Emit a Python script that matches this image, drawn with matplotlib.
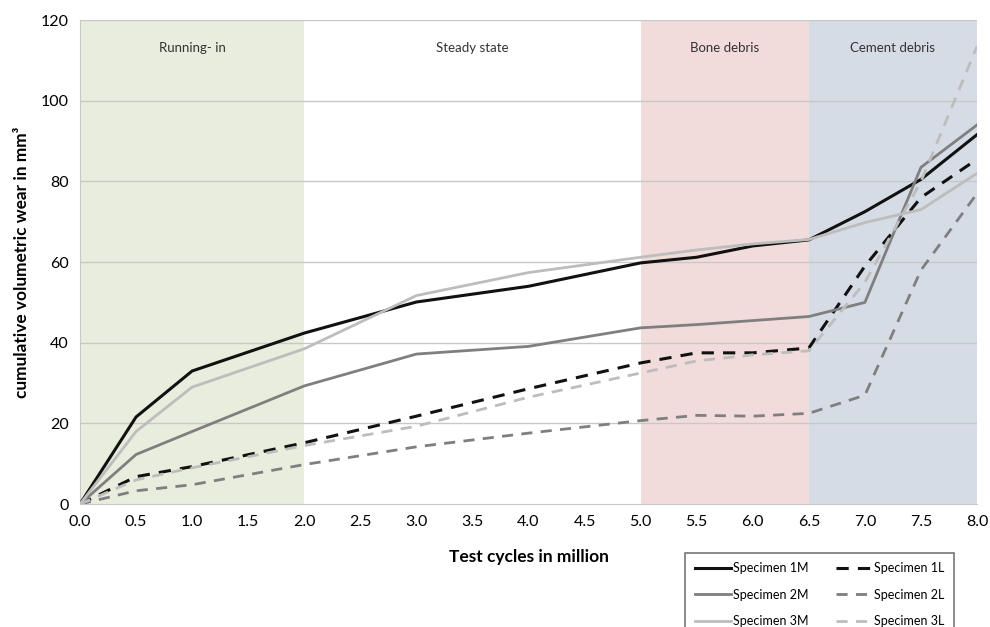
import matplotlib
matplotlib.use('Agg')
import matplotlib.pyplot as plt

plt.rcParams['font.family'] = ['Lato', 'DejaVu Sans']

# test cycles (million)
cycles = [0.0, 0.5, 1.0, 2.0, 3.0, 4.0, 5.0, 5.5, 6.0, 6.5, 7.0, 7.5, 8.0]

# cumulative volumetric wear in mm^3
wear_1m = [0, 21.6, 33.0, 42.4, 50.1, 54.0, 59.8, 61.2, 64.0, 65.5, 72.5, 80.5, 91.6]
wear_2m = [0, 12.3, 18.0, 29.3, 37.2, 39.1, 43.7, 44.5, 45.5, 46.5, 50.0, 83.5, 94.0]
wear_3m = [0, 18.0, 29.0, 38.5, 51.7, 57.4, 61.2, 63.0, 64.5, 65.6, 69.8, 73.0, 82.0]
wear_1l = [0, 6.8, 9.3, 15.2, 21.8, 28.6, 35.0, 37.5, 37.5, 38.7, 59.0, 76.0, 85.5]
wear_2l = [0, 3.3, 4.8, 9.8, 14.2, 17.6, 20.7, 22.0, 21.8, 22.5, 27.0, 58.0, 77.0]
wear_3l = [0, 6.0, 9.0, 14.5, 19.3, 26.5, 32.5, 35.5, 37.0, 38.0, 55.0, 80.0, 113.5]

phases = [(0.0, 2.0, 'Running- in', '#e9eddd'),
          (2.0, 5.0, 'Steady state', 'white'),
          (5.0, 6.5, 'Bone debris', '#f2dcdb'),
          (6.5, 8.0, 'Cement debris', '#d6dce5')]

fig = plt.figure(figsize=(9.9, 6.27), dpi=100)
ax = fig.add_axes([0.0808, 0.196, 0.9061, 0.772])

for x0, x1, name, col in phases:
    ax.axvspan(x0, x1, color=col, lw=0, zorder=0)
    ax.text((x0 + x1) / 2, 113, name, ha='center', va='center',
            fontsize=9.5, color='#333333')

for y in range(20, 121, 20):
    ax.axhline(y, color='#c8c8c8', lw=1, zorder=1)

dash = (0, (4, 3))
ax.plot(cycles, wear_1m, color='#111111', lw=2.2, label='Specimen 1M', zorder=3)
ax.plot(cycles, wear_1l, color='#111111', lw=2.2, ls=dash, label='Specimen 1L', zorder=3)
ax.plot(cycles, wear_2m, color='#7f7f7f', lw=2, label='Specimen 2M', zorder=3)
ax.plot(cycles, wear_2l, color='#7f7f7f', lw=2, ls=dash, label='Specimen 2L', zorder=3)
ax.plot(cycles, wear_3m, color='#bdbdbd', lw=2, label='Specimen 3M', zorder=3)
ax.plot(cycles, wear_3l, color='#bdbdbd', lw=2, ls=dash, label='Specimen 3L', zorder=3)

ax.set_xlim(0, 8)
ax.set_ylim(0, 120)
ax.set_xticks([i * 0.5 for i in range(17)])
ax.set_xticklabels(['%.1f' % (i * 0.5) for i in range(17)])
ax.set_yticks(range(0, 121, 20))
ax.tick_params(length=0, labelsize=11.5, pad=8)

for s in ['top', 'right']:
    ax.spines[s].set_visible(False)
ax.spines['left'].set_color('#c8c8c8')
ax.spines['bottom'].set_color('#c8c8c8')

ax.set_xlabel('Test cycles in million', fontsize=12.5, fontweight='bold', labelpad=14)
ax.set_ylabel('cumulative volumetric wear in mm³', fontsize=12.4, fontweight='bold', labelpad=8)

handles, labels = ax.get_legend_handles_labels()
order = [0, 2, 4, 1, 3, 5]
leg = fig.legend([handles[i] for i in order], [labels[i] for i in order],
                 loc='upper left', bbox_to_anchor=(0.686, 0.128), ncol=2,
                 fontsize=9, frameon=True, fancybox=False, edgecolor='#555555',
                 handlelength=2.9, handletextpad=0.15, columnspacing=2.2,
                 labelspacing=1.15, borderpad=0.75)
leg.get_frame().set_linewidth(1.2)

fig.savefig('out.png', dpi=100)
